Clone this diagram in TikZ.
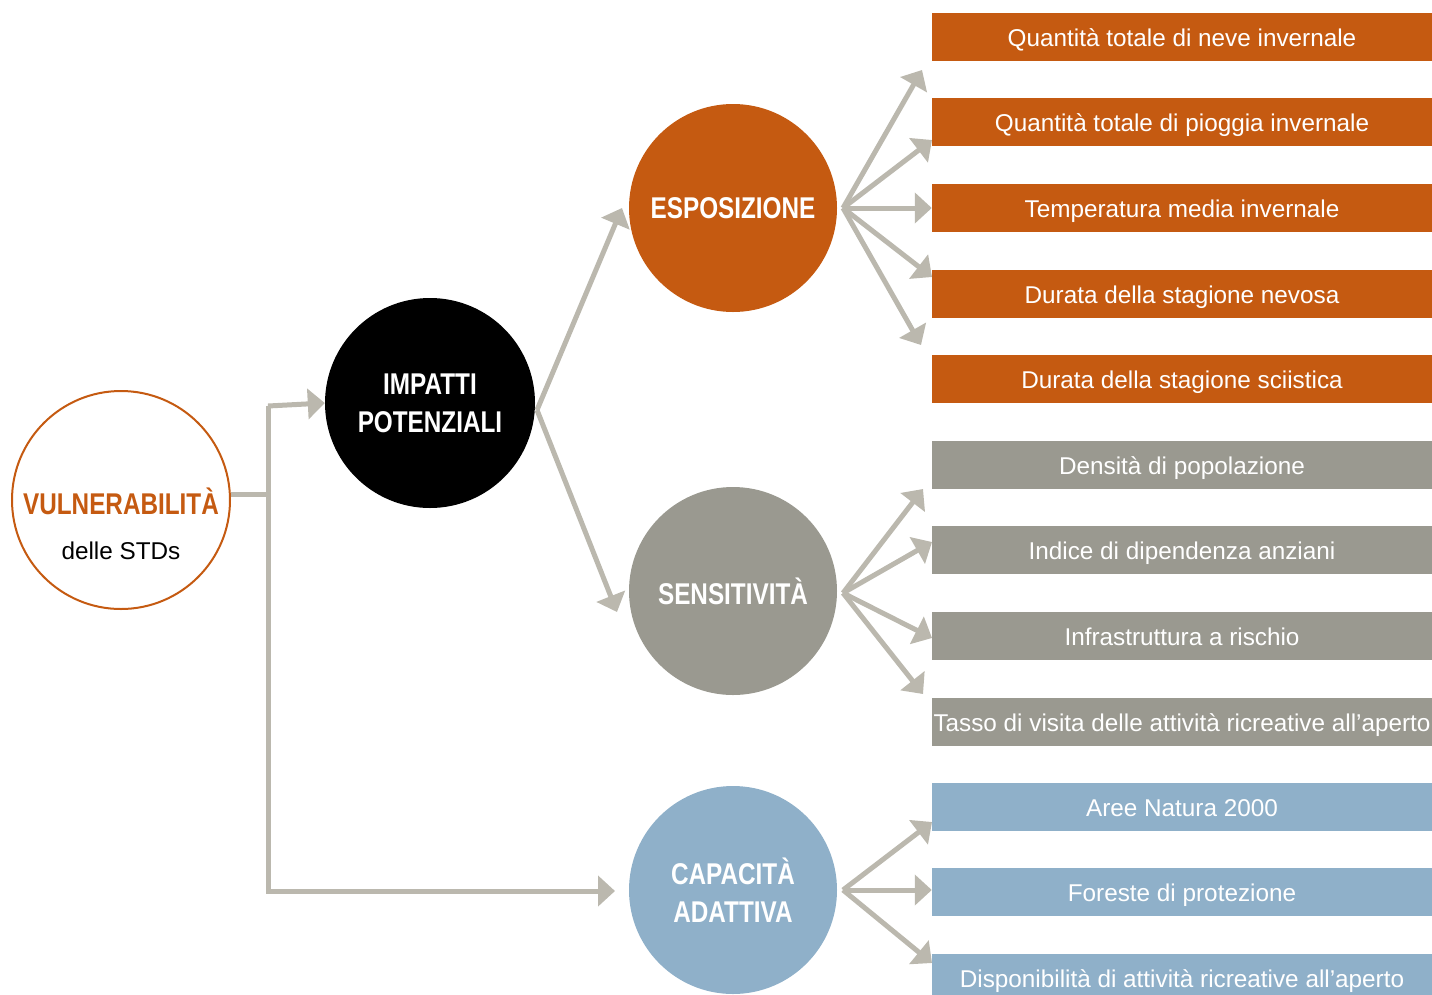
\documentclass[tikz,border=0pt]{standalone}
\usepackage{fontspec}
\setmainfont{Liberation Sans}
\newfontfamily\bodyfont{Liberation Sans}
\newfontfamily\headfont[FakeStretch=0.81]{Liberation Sans}
\usetikzlibrary{arrows.meta}
\definecolor{orng}{HTML}{C55A11}
\definecolor{gry}{HTML}{9A9990}
\definecolor{blu}{HTML}{8FB0C9}
\definecolor{arrc}{HTML}{BBB8AE}
\tikzset{
  bigc/.style={circle, inner sep=0pt, minimum size=208pt, align=center, text=white,
    font=\headfont\bfseries\fontsize{30}{38}\selectfont},
  item/.style={rectangle, inner sep=0pt, minimum width=500pt, minimum height=48pt,
    text height=19pt, text depth=1pt,
    text=white, font=\bodyfont\fontsize{24.3}{28}\selectfont},
  arr/.style={draw=arrc, line width=5pt, -{Triangle[length=17pt,width=30pt]}},
  plainline/.style={draw=arrc, line width=5pt},
}
\begin{document}
\begin{tikzpicture}[x=1pt,y=-1pt]
\useasboundingbox (0,0) rectangle (1432,994);
% circles
\node[circle, draw=orng, line width=2pt, minimum size=218pt, inner sep=0pt] (vul) at (121,500) {};
\node[text=orng, font=\headfont\bfseries\fontsize{30}{36}\selectfont] (vult) at (121,501) {VULNERABILITÀ};
\node[font=\bodyfont\fontsize{24.3}{28}\selectfont] (vuls) at (121,551) {delle STDs};
\node[bigc, fill=black, minimum size=210pt] (imp) at (430,403) {IMPATTI\\POTENZIALI};
\node[bigc, fill=orng] (esp) at (733,208) {ESPOSIZIONE};
\node[bigc, fill=gry] (sen) at (733,591) {SENSITIVITÀ};
\node[bigc, fill=blu] (cap) at (733,890) {CAPACITÀ\\ADATTIVA};
% items
\node[item, fill=orng] (e1) at (1182,37) {Quantità totale di neve invernale};
\node[item, fill=orng] (e2) at (1182,122) {Quantità totale di pioggia invernale};
\node[item, fill=orng] (e3) at (1182,208) {Temperatura media invernale};
\node[item, fill=orng] (e4) at (1182,294) {Durata della stagione nevosa};
\node[item, fill=orng] (e5) at (1182,379) {Durata della stagione sciistica};
\node[item, fill=gry] (s1) at (1182,465) {Densità di popolazione};
\node[item, fill=gry] (s2) at (1182,550) {Indice di dipendenza anziani};
\node[item, fill=gry] (s3) at (1182,636) {Infrastruttura a rischio};
\node[item, fill=gry] (s4) at (1182,722) {Tasso di visita delle attività ricreative all’aperto};
\node[item, fill=blu] (c1) at (1182,807) {Aree Natura 2000};
\node[item, fill=blu] (c2) at (1182,892) {Foreste di protezione};
\node[item, fill=blu] (c3) at (1182,978) {Disponibilità di attività ricreative all’aperto};
% left connector
\coordinate (vr) at (vul.east);
\coordinate (jn) at (268,494);
\draw[plainline] (vr |- jn) -- (jn);
\draw[arr] (268,406) -- (imp.west);
\draw[arr] (268,406) -- (268,891) -- (615,891);
\draw[plainline] (268,406) -- (268,500);
% impatti to esposizione / sensitivita
\coordinate (io) at (537,410);
\coordinate (it1) at (622,208);
\coordinate (it2) at (617,612);
\draw[arr] (io) -- (it1);
\draw[arr] (io) -- (it2);
% esposizione fan
\coordinate (eo) at (843,208);
\coordinate (et1) at (922,70);
\coordinate (et2) at (932,140);
\coordinate (et4) at (932,277);
\coordinate (et5) at (921,345);
\draw[arr] (eo) -- (et1);
\draw[arr] (eo) -- (et2);
\draw[arr] (eo) -- (e3.west);
\draw[arr] (eo) -- (et4);
\draw[arr] (eo) -- (et5);
% sensitivita fan
\coordinate (so) at (843,593);
\coordinate (st1) at (923,489);
\coordinate (st2) at (932,542);
\coordinate (st3) at (932,638);
\coordinate (st4) at (923,694);
\draw[arr] (so) -- (st1);
\draw[arr] (so) -- (st2);
\draw[arr] (so) -- (st3);
\draw[arr] (so) -- (st4);
% capacita fan
\coordinate (co) at (843,890);
\coordinate (ct1) at (932,822);
\coordinate (ct3) at (932,963);
\draw[arr] (co) -- (ct1);
\draw[arr] (co) -- (c2.west |- co);
\draw[arr] (co) -- (ct3);
\end{tikzpicture}
\end{document}
